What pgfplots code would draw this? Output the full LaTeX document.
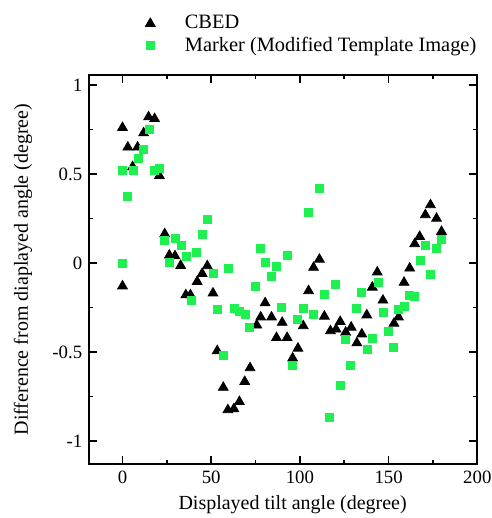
\documentclass[border=0pt]{standalone}
\usepackage{pgfplots}
\pgfplotsset{compat=1.18}
\usepackage{fontspec}
\setmainfont{Liberation Serif}
\definecolor{markgreen}{HTML}{1EF050}

\begin{document}
\begin{tikzpicture}
\begin{axis}[
  scale only axis,
  width=194pt, height=194.5pt,
  xmin=-18.7, xmax=200,
  ymin=-1.13, ymax=1.056,
  xtick={0,50,100,150,200},
  ytick={-1,-0.5,0,0.5,1},
  minor x tick num=1, minor y tick num=1,
  tick align=inside,
  major tick length=4pt, minor tick length=2pt,
  axis line style={line width=0.9pt},
  every tick/.style={black, line width=0.8pt},
  /pgf/number format/assume math mode=true,
  tick label style={font=\rmfamily\fontsize{9.4pt}{11pt}\selectfont},
  label style={font=\rmfamily\fontsize{8.5pt}{10pt}\selectfont},
  xlabel={Displayed tilt angle (degree)},
  ylabel={Difference from diaplayed angle (degree)},
  every axis x label/.style={at={(axis description cs:0.524,-0.105)}, anchor=center},
  every axis y label/.style={at={(axis description cs:-0.171,0.5)}, rotate=90, anchor=center},
  clip=false,
  legend style={draw=none, fill=none, at={(axis description cs:0.125,1.175)}, anchor=north west,
    font=\rmfamily\fontsize{10.2pt}{12pt}\selectfont, row sep=-1.5pt},
  legend cell align=left,
  legend image code/.code={\path (0.2cm,0cm) (0.83cm,0cm);
    \draw[mark repeat=2,mark phase=2,#1] plot coordinates {(0cm,0cm) (0.3cm,0cm) (0.6cm,0cm)};},
]
\addplot[only marks, mark=triangle*, mark size=2.8pt, black] coordinates {
  (0,0.76) (0,-0.13) (3,0.65) (5.7,0.54) (8.5,0.65) (11.9,0.73) (14.7,0.82) (18.1,0.81)
  (20.8,0.49) (23.8,0.163) (26.4,0.043) (29.6,0.039) (32.8,-0.015) (35.7,-0.18) (38.3,-0.18)
  (42.1,-0.105) (44.9,-0.06) (47.8,-0.017) (51,-0.17) (53.4,-0.494) (56.8,-0.70) (59.4,-0.826)
  (62.8,-0.82) (65.9,-0.78) (68.9,-0.667) (71.9,-0.59) (75.7,-0.35) (77.9,-0.305) (80.4,-0.225)
  (84,-0.305) (86.8,-0.42) (90,-0.335) (92.8,-0.42) (95.9,-0.535) (98.9,-0.48) (101.9,-0.354)
  (104.9,-0.157) (107.7,-0.026) (111,0.02) (113.8,-0.3) (117.2,-0.382) (120.4,-0.373)
  (122.7,-0.33) (125.8,-0.39) (128.9,-0.362) (132.1,-0.45) (134.9,-0.4) (137.7,-0.293)
  (140.8,-0.137) (143.6,-0.052) (146.8,-0.21) (153,-0.34) (155.6,-0.305) (158.7,-0.11)
  (161.9,-0.03) (164.7,0.107) (167.5,0.148) (170.7,0.27) (173.6,0.326) (177,0.25) (179.8,0.176)
};
\addlegendentry{CBED}
\addplot[only marks, mark=square*, mark size=2pt, markgreen] coordinates {
  (0,0.52) (0,0) (2.8,0.376) (5.9,0.52) (8.9,0.586) (11.9,0.64) (15.1,0.75) (17.8,0.52)
  (20.9,0.53) (23.8,0.125) (26.6,0.002) (29.8,0.135) (33,0.097) (35.9,0.039) (38.7,-0.21)
  (41.9,0.06) (44.9,0.16) (47.8,0.245) (51.2,-0.06) (53.6,-0.262) (56.8,-0.52) (59.8,-0.028)
  (62.8,-0.255) (65.9,-0.27) (69,-0.29) (71.7,-0.36) (74.9,-0.133) (77.9,0.084) (80.8,0.002)
  (84,-0.075) (86.8,-0.02) (89.8,-0.25) (92.8,0.045) (95.9,-0.577) (98.7,-0.32) (101.7,-0.253)
  (104.7,0.285) (107.7,-0.287) (110.8,0.42) (113.8,-0.176) (116.6,-0.867) (119.8,-0.12)
  (122.6,-0.69) (125.7,-0.427) (128.7,-0.577) (131.9,-0.257) (134.7,-0.167) (137.9,-0.485)
  (140.6,-0.425) (144,-0.11) (147.2,-0.28) (150,-0.386) (152.8,-0.474) (155.4,-0.26)
  (158.7,-0.245) (161.9,-0.18) (164.7,-0.19) (167.9,0.013) (170.7,0.10) (173.7,-0.067)
  (177,0.083) (179.8,0.13)
};
\addlegendentry{Marker (Modified Template Image)}
\coordinate (LL) at (rel axis cs:-0.2302,-0.1388);
\coordinate (UR) at (rel axis cs:1.0353,1.1928);
\end{axis}
\pgfresetboundingbox
\path (LL) rectangle (UR);
\end{tikzpicture}
\end{document}
